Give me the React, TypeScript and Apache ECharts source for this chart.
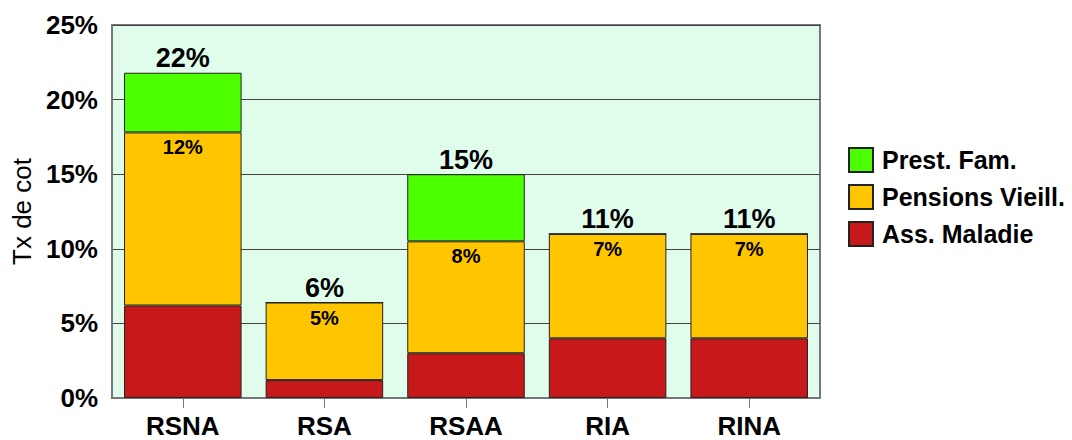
import React, { useEffect, useRef } from "react";
import * as echarts from "echarts";

const categories = ["RSNA", "RSA", "RSAA", "RIA", "RINA"];
const assMaladie = [6.2, 1.2, 3.0, 4.0, 4.0];
const pensionsVieill = [11.6, 5.2, 7.5, 7.0, 7.0];
const prestFam = [4.0, 0, 4.5, 0, 0];
const yTicks = [0, 5, 10, 15, 20, 25];

const FONT = "'Liberation Sans', Arial, sans-serif";

export default function App() {
  const ref = useRef<HTMLDivElement>(null);
  useEffect(() => {
    if (!ref.current) return;
    const chart = echarts.init(ref.current, null, { renderer: "svg" });
    const totals = categories.map((_, i) => assMaladie[i] + pensionsVieill[i] + prestFam[i]);
    const border = { borderColor: "#222", borderWidth: 1 };
    chart.setOption({
      animation: false,
      backgroundColor: "#ffffff",
      textStyle: { fontFamily: FONT },
      grid: {
        left: 112,
        top: 25,
        width: 708,
        height: 373,
        show: true,
        backgroundColor: "#E0FDEB",
        borderColor: "#777777",
        borderWidth: 2,
      },
      legend: {
        orient: "vertical",
        left: 848,
        top: 147,
        padding: 0,
        itemWidth: 24,
        itemHeight: 24,
        itemGap: 11,
        icon: "rect",
        data: ["Prest. Fam.", "Pensions Vieill.", "Ass. Maladie"],
        textStyle: { fontFamily: FONT, fontWeight: "bold", fontSize: 25, color: "#000", padding: [0, 0, 0, 4] },
      },
      xAxis: {
        type: "category",
        data: categories,
        axisLine: { show: true, lineStyle: { color: "#777777", width: 2 } },
        axisTick: { show: true, alignWithLabel: true, length: 10, lineStyle: { color: "#777777", width: 1 } },
        axisLabel: { fontFamily: FONT, fontWeight: "bold", fontSize: 26, color: "#000", margin: 15 },
      },
      yAxis: {
        type: "value",
        min: yTicks[0],
        max: yTicks[yTicks.length - 1],
        interval: 5,
        name: "Tx de cot",
        nameLocation: "middle",
        nameGap: 76,
        nameTextStyle: { fontFamily: FONT, fontSize: 26, color: "#000" },
        axisLine: { show: true, lineStyle: { color: "#777777", width: 2 } },
        axisTick: { show: false },
        axisLabel: { fontFamily: FONT, fontWeight: "bold", fontSize: 26, color: "#000", margin: 14, formatter: "{value}%" },
        splitLine: { show: true, lineStyle: { color: "#444444", width: 1 } },
      },
      series: [
        {
          name: "Ass. Maladie",
          type: "bar",
          stack: "s",
          barWidth: "83%",
          data: assMaladie,
          itemStyle: { color: "#C8191A", ...border },
        },
        {
          name: "Pensions Vieill.",
          type: "bar",
          stack: "s",
          barWidth: "83%",
          data: pensionsVieill,
          itemStyle: { color: "#FFC600", ...border },
          label: {
            show: true,
            position: "insideTop",
            distance: 5,
            fontFamily: FONT,
            fontWeight: "bold",
            fontSize: 20,
            color: "#000",
            formatter: (p: any) => Math.round(p.value) + "%",
          },
        },
        {
          name: "Prest. Fam.",
          type: "bar",
          stack: "s",
          barWidth: "83%",
          data: prestFam,
          itemStyle: { color: "#4BFF00", ...border },
          label: {
            show: true,
            position: "top",
            distance: 1,
            fontFamily: FONT,
            fontWeight: "bold",
            fontSize: 27,
            color: "#000",
            formatter: (p: any) => Math.round(totals[p.dataIndex]) + "%",
          },
        },
      ],
    });
    return () => chart.dispose();
  }, []);
  return <div ref={ref} style={{ position: "fixed", left: 0, top: 0, width: 1072, height: 440 }} />;
}
